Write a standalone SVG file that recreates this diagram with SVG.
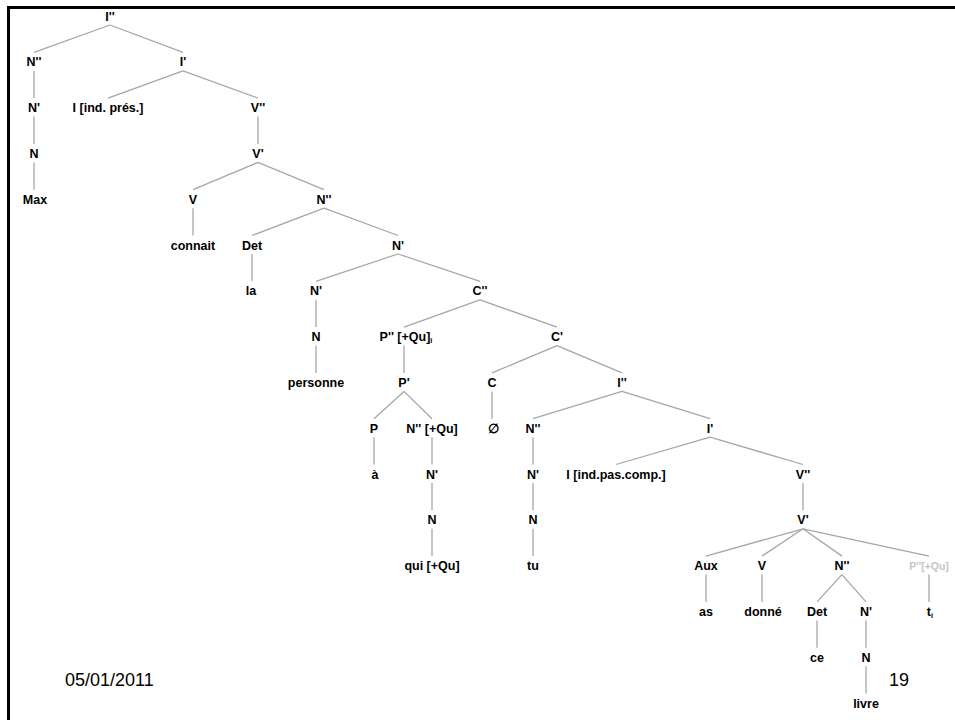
<svg xmlns="http://www.w3.org/2000/svg" width="955" height="720" viewBox="0 0 955 720">
<style>
  .lbl { font-family: "Liberation Sans", Arial, sans-serif; font-weight: bold; font-size: 12.5px; fill: #000; text-anchor: middle; }
  .gray { fill: #c4c4c4; font-size: 10.5px; }
  .sub { font-size: 7.5px; }
  .foot { font-family: "Liberation Sans", Arial, sans-serif; font-size: 18px; fill: #000; }
  #edges line { stroke: #a6a6a6; stroke-width: 1.3; }
</style>
<rect x="0" y="0" width="955" height="720" fill="#fff"/>
<path d="M8.5,720 V7.5 H955" fill="none" stroke="#000" stroke-width="3"/>
<g id="edges">
  <line x1="110" y1="25" x2="34" y2="52.3"/>
  <line x1="110" y1="25" x2="183" y2="52.3"/>
  <line x1="34" y1="70.8" x2="34" y2="98.1"/>
  <line x1="34" y1="116.6" x2="34" y2="143.9"/>
  <line x1="34" y1="162.4" x2="34" y2="189.7"/>
  <line x1="183" y1="70.8" x2="108" y2="98.1"/>
  <line x1="183" y1="70.8" x2="258" y2="98.1"/>
  <line x1="258" y1="116.6" x2="258" y2="143.9"/>
  <line x1="258" y1="162.4" x2="193" y2="189.7"/>
  <line x1="258" y1="162.4" x2="324" y2="189.7"/>
  <line x1="193" y1="208.2" x2="193" y2="235.5"/>
  <line x1="324" y1="208.2" x2="252" y2="235.5"/>
  <line x1="324" y1="208.2" x2="398" y2="235.5"/>
  <line x1="252" y1="254" x2="252" y2="281.3"/>
  <line x1="398" y1="254" x2="316" y2="281.3"/>
  <line x1="398" y1="254" x2="480" y2="281.3"/>
  <line x1="316" y1="299.8" x2="316" y2="327.1"/>
  <line x1="316" y1="345.6" x2="316" y2="372.9"/>
  <line x1="480" y1="299.8" x2="404" y2="327.1"/>
  <line x1="480" y1="299.8" x2="557" y2="327.1"/>
  <line x1="404" y1="345.6" x2="404" y2="372.9"/>
  <line x1="404" y1="391.4" x2="374" y2="418.7"/>
  <line x1="404" y1="391.4" x2="432" y2="418.7"/>
  <line x1="374" y1="437.2" x2="374" y2="464.5"/>
  <line x1="432" y1="437.2" x2="432" y2="464.5"/>
  <line x1="432" y1="483" x2="432" y2="510.3"/>
  <line x1="432" y1="528.8" x2="432" y2="556.1"/>
  <line x1="557" y1="345.6" x2="492" y2="372.9"/>
  <line x1="557" y1="345.6" x2="622" y2="372.9"/>
  <line x1="492" y1="391.4" x2="492" y2="418.7"/>
  <line x1="622" y1="391.4" x2="533" y2="418.7"/>
  <line x1="622" y1="391.4" x2="710" y2="418.7"/>
  <line x1="533" y1="437.2" x2="533" y2="464.5"/>
  <line x1="533" y1="483" x2="533" y2="510.3"/>
  <line x1="533" y1="528.8" x2="533" y2="556.1"/>
  <line x1="710" y1="437.2" x2="616" y2="464.5"/>
  <line x1="710" y1="437.2" x2="803" y2="464.5"/>
  <line x1="803" y1="483" x2="803" y2="510.3"/>
  <line x1="803" y1="528.8" x2="706" y2="556.1"/>
  <line x1="803" y1="528.8" x2="762" y2="556.1"/>
  <line x1="803" y1="528.8" x2="842" y2="556.1"/>
  <line x1="803" y1="528.8" x2="929" y2="556.1"/>
  <line x1="706" y1="574.6" x2="706" y2="601.9"/>
  <line x1="762" y1="574.6" x2="762" y2="601.9"/>
  <line x1="842" y1="574.6" x2="817" y2="601.9"/>
  <line x1="842" y1="574.6" x2="866" y2="601.9"/>
  <line x1="929" y1="574.6" x2="929" y2="601.9"/>
  <line x1="817" y1="620.4" x2="817" y2="647.7"/>
  <line x1="866" y1="620.4" x2="866" y2="647.7"/>
  <line x1="866" y1="666.2" x2="866" y2="693.5"/>
</g>
<g id="n1"><text class="lbl" x="110" y="20.5">I''</text></g>
<g id="n2"><text class="lbl" x="34" y="66.3">N''</text></g>
<g id="n3"><text class="lbl" x="183" y="66.3">I'</text></g>
<g id="n4"><text class="lbl" x="34" y="112.1">N'</text></g>
<g id="n5"><text class="lbl" x="108" y="112.1">I [ind. prés.]</text></g>
<g id="n6"><text class="lbl" x="258" y="112.1">V''</text></g>
<g id="n7"><text class="lbl" x="34" y="157.9">N</text></g>
<g id="n8"><text class="lbl" x="258" y="157.9">V'</text></g>
<g id="n9"><text class="lbl" x="35" y="203.7">Max</text></g>
<g id="n10"><text class="lbl" x="193" y="203.7">V</text></g>
<g id="n11"><text class="lbl" x="324" y="203.7">N''</text></g>
<g id="n12"><text class="lbl" x="193" y="249.5">connait</text></g>
<g id="n13"><text class="lbl" x="252" y="249.5">Det</text></g>
<g id="n14"><text class="lbl" x="398" y="249.5">N'</text></g>
<g id="n15"><text class="lbl" x="251" y="295.3">la</text></g>
<g id="n16"><text class="lbl" x="316" y="295.3">N'</text></g>
<g id="n17"><text class="lbl" x="480" y="295.3">C''</text></g>
<g id="n18"><text class="lbl" x="316" y="341.1">N</text></g>
<g id="n19"><text class="lbl" x="406" y="341.1">P'' [+Qu]<tspan class="sub" dy="2">i</tspan></text></g>
<g id="n20"><text class="lbl" x="557" y="341.1">C'</text></g>
<g id="n21"><text class="lbl" x="316" y="386.9">personne</text></g>
<g id="n22"><text class="lbl" x="404" y="386.9">P'</text></g>
<g id="n23"><text class="lbl" x="492" y="386.9">C</text></g>
<g id="n24"><text class="lbl" x="622" y="386.9">I''</text></g>
<g id="n25"><text class="lbl" x="374" y="432.7">P</text></g>
<g id="n26"><text class="lbl" x="432" y="432.7">N'' [+Qu]</text></g>
<g id="n27"><text class="lbl" x="493" y="432.7">∅</text></g>
<g id="n28"><text class="lbl" x="533" y="432.7">N''</text></g>
<g id="n29"><text class="lbl" x="710" y="432.7">I'</text></g>
<g id="n30"><text class="lbl" x="375" y="478.5">à</text></g>
<g id="n31"><text class="lbl" x="432" y="478.5">N'</text></g>
<g id="n32"><text class="lbl" x="533" y="478.5">N'</text></g>
<g id="n33"><text class="lbl" x="616" y="478.5">I [ind.pas.comp.]</text></g>
<g id="n34"><text class="lbl" x="803" y="478.5">V''</text></g>
<g id="n35"><text class="lbl" x="432" y="524.3">N</text></g>
<g id="n36"><text class="lbl" x="533" y="524.3">N</text></g>
<g id="n37"><text class="lbl" x="803" y="524.3">V'</text></g>
<g id="n38"><text class="lbl" x="432" y="570.1">qui [+Qu]</text></g>
<g id="n39"><text class="lbl" x="533" y="570.1">tu</text></g>
<g id="n40"><text class="lbl" x="706" y="570.1">Aux</text></g>
<g id="n41"><text class="lbl" x="762" y="570.1">V</text></g>
<g id="n42"><text class="lbl" x="842" y="570.1">N''</text></g>
<g id="n43"><text class="lbl gray" x="929" y="570.1">P''[+Qu]</text></g>
<g id="n44"><text class="lbl" x="706" y="615.9">as</text></g>
<g id="n45"><text class="lbl" x="763" y="615.9">donné</text></g>
<g id="n46"><text class="lbl" x="817" y="615.9">Det</text></g>
<g id="n47"><text class="lbl" x="866" y="615.9">N'</text></g>
<g id="n48"><text class="lbl" x="930" y="615.9">t<tspan class="sub" dy="2">i</tspan></text></g>
<g id="n49"><text class="lbl" x="817" y="661.7">ce</text></g>
<g id="n50"><text class="lbl" x="866" y="661.7">N</text></g>
<g id="n51"><text class="lbl" x="866" y="707.5">livre</text></g>
<text class="foot" x="65" y="686">05/01/2011</text>
<text class="foot" x="889" y="686">19</text>
</svg>
